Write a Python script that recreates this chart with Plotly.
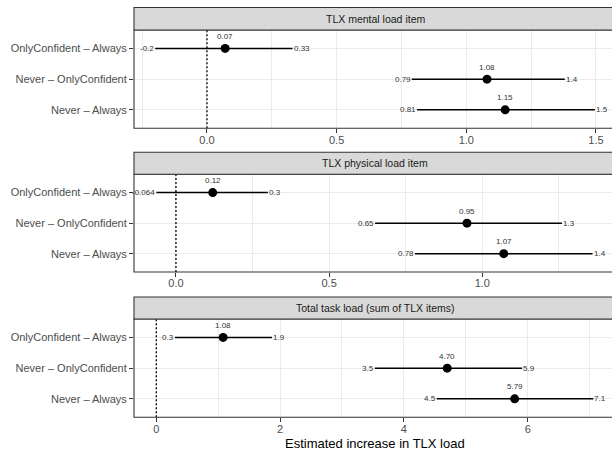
import plotly.graph_objects as go

# ---- data ----
categories = ["Never – Always", "Never – OnlyConfident", "OnlyConfident – Always"]  # bottom -> top
panel_titles = ["TLX mental load item", "TLX physical load item", "Total task load (sum of TLX items)"]

mental_est = [1.15, 1.08, 0.07]
mental_lo = [0.81, 0.79, -0.2]
mental_hi = [1.496, 1.38, 0.33]

physical_est = [1.07, 0.95, 0.12]
physical_lo = [0.78, 0.65, -0.064]
physical_hi = [1.36, 1.26, 0.30]

total_est = [5.79, 4.70, 1.08]
total_lo = [4.53, 3.53, 0.30]
total_hi = [7.06, 5.91, 1.87]

panels = [
    (mental_est, mental_lo, mental_hi),
    (physical_est, physical_lo, physical_hi),
    (total_est, total_lo, total_hi),
]
x_ranges = [[-0.2815, 1.562], [-0.137, 1.4234], [-0.360, 7.362]]
x_dtick = [0.5, 0.5, 2]
x_minor = [0.25, 0.25, 1]
x_fmt = [".1f", ".1f", "d"]

# ---- layout geometry (pixels) ----
W, H = 612, 452
L = 134
plot_px = [(30, 128.3), (174.3, 272), (319, 417.3)]
strip_px = [(7.5, 30), (152.3, 174.3), (297, 319)]

FONT = "Liberation Sans, Arial, Helvetica, sans-serif"


def py(px):
    return 1 - px / H


def fmt_sig(v):
    return "{:.2g}".format(v)


fig = go.Figure()
layout = dict(
    width=W, height=H,
    margin=dict(l=L, r=0, t=0, b=0),
    paper_bgcolor="white", plot_bgcolor="white",
    showlegend=False,
    font=dict(family=FONT, color="#4d4d4d", size=11),
)
shapes = []
annotations = []

for i, (est, lo, hi) in enumerate(panels):
    n = "" if i == 0 else str(i + 1)
    xa, ya = "x" + n, "y" + n
    fig.add_trace(go.Scatter(
        x=est, y=categories, xaxis=xa, yaxis=ya, mode="markers",
        marker=dict(color="black", size=9),
        error_x=dict(type="data", symmetric=False,
                     array=[h - e for h, e in zip(hi, est)],
                     arrayminus=[e - l for e, l in zip(est, lo)],
                     color="black", thickness=1.5, width=0),
        hoverinfo="skip",
    ))
    top, bot = plot_px[i]
    layout["xaxis" + n] = dict(
        domain=[0, 1], anchor=ya, range=x_ranges[i],
        tick0=0, dtick=x_dtick[i], tickformat=x_fmt[i],
        showgrid=True, gridcolor="#ebebeb", gridwidth=1.1,
        minor=dict(dtick=x_minor[i], tick0=0, showgrid=True, gridcolor="#ebebeb", gridwidth=0.6),
        zeroline=False, showline=False,
        ticks="outside", ticklen=4, tickcolor="#333333", tickwidth=1,
        ticklabelstandoff=-3,
        tickfont=dict(size=11, color="#4d4d4d", family=FONT),
    )
    layout["yaxis" + n] = dict(
        domain=[py(bot), py(top)], anchor=xa,
        type="category", categoryorder="array", categoryarray=categories,
        range=[-0.6, 2.6],
        showgrid=True, gridcolor="#ebebeb", gridwidth=1.1,
        zeroline=False, showline=False,
        ticks="outside", ticklen=4, tickcolor="#333333", tickwidth=1,
        tickfont=dict(size=11, color="#4d4d4d", family=FONT),
    )
    # zero reference line
    shapes.append(dict(type="line", xref=xa, yref=ya + " domain", x0=0, x1=0, y0=0, y1=1,
                       line=dict(color="black", width=1.3, dash="2px,2px"), layer="above"))
    # panel border (right side lies outside the visible picture)
    shapes.append(dict(type="rect", xref="paper", yref="paper", x0=0, x1=1.02,
                       y0=py(bot), y1=py(top), line=dict(color="#333333", width=1.1),
                       fillcolor="rgba(0,0,0,0)", layer="above"))
    # strip
    st, sb = strip_px[i]
    shapes.append(dict(type="rect", xref="paper", yref="paper", x0=0, x1=1.02,
                       y0=py(sb), y1=py(st), line=dict(color="#333333", width=1.1),
                       fillcolor="#d9d9d9", layer="above"))
    annotations.append(dict(text=panel_titles[i], xref="paper", yref="paper",
                            x=(375 - L) / (W - L), y=py((st + sb) / 2), showarrow=False,
                            xanchor="center", yanchor="middle",
                            font=dict(size=10.5, color="#1a1a1a", family=FONT)))
    # value labels
    for c, e, l, h in zip(categories, est, lo, hi):
        annotations.append(dict(text="{:.2f}".format(e), xref=xa, yref=ya, x=e, y=c,
                                showarrow=False, xanchor="center", yanchor="middle", yshift=12,
                                font=dict(size=8, color="#333333", family=FONT)))
        annotations.append(dict(text=fmt_sig(l), xref=xa, yref=ya, x=l, y=c,
                                showarrow=False, xanchor="right", yanchor="middle",
                                borderpad=0, font=dict(size=8, color="#333333", family=FONT)))
        annotations.append(dict(text=fmt_sig(h), xref=xa, yref=ya, x=h, y=c,
                                showarrow=False, xanchor="left", yanchor="middle",
                                borderpad=0, font=dict(size=8, color="#333333", family=FONT)))

annotations.append(dict(text="Estimated increase in TLX load", xref="paper", yref="paper",
                        x=(375 - L) / (W - L), y=py(443), showarrow=False,
                        xanchor="center", yanchor="middle",
                        font=dict(size=13, color="black", family=FONT)))

layout["shapes"] = shapes
layout["annotations"] = annotations
fig.update_layout(**layout)
fig.write_html("out.html")
